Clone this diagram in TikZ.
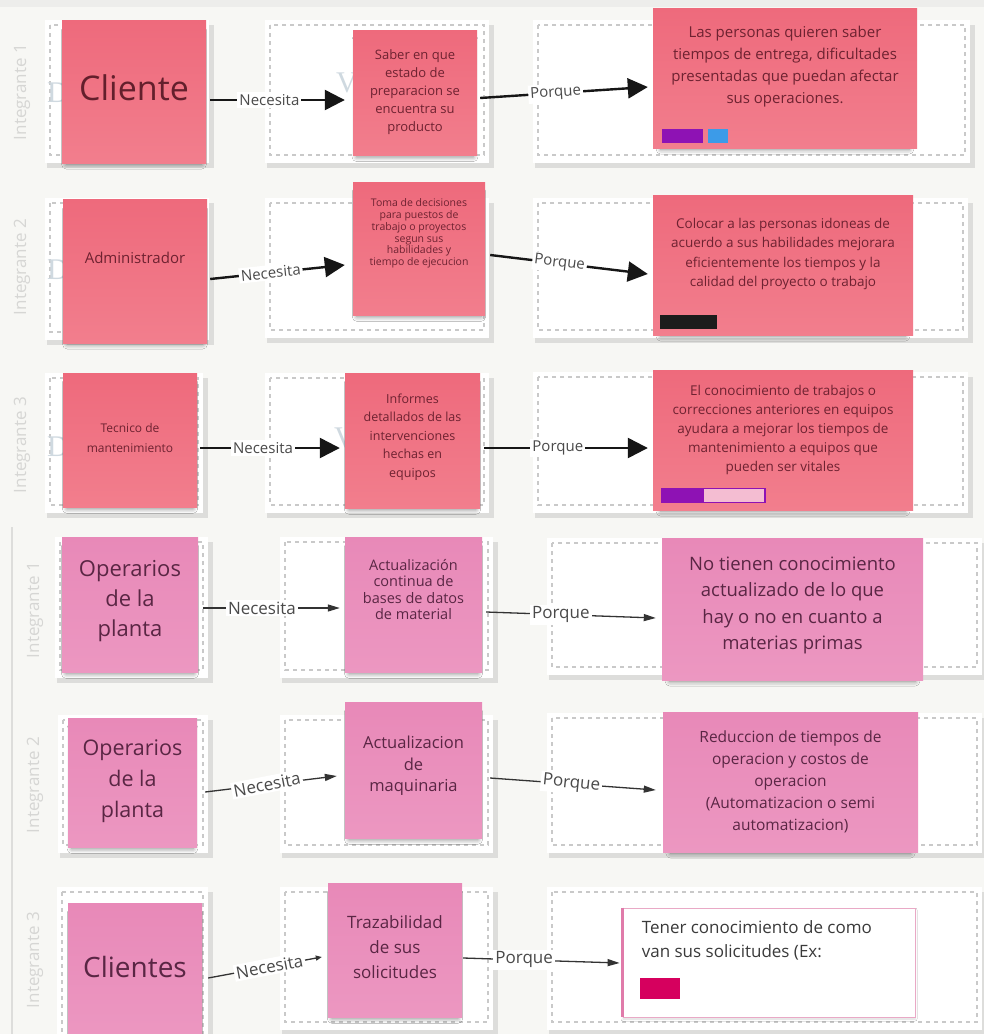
\documentclass[tikz,border=0pt]{standalone}
\usepackage{fontspec}
\setmainfont{Open Sans}
\newfontfamily\placeholderfont{Liberation Serif}
\usetikzlibrary{arrows.meta,calc,shadows.blur}

\definecolor{bg}{HTML}{F7F7F4}
\definecolor{topband}{HTML}{EDEDEB}
\definecolor{cellgray}{HTML}{DDDDDB}
\definecolor{dashgray}{HTML}{C9C9C9}
\definecolor{redtop}{HTML}{EE6A7C}
\definecolor{redbot}{HTML}{F27E8D}
\definecolor{pinktop}{HTML}{E889B8}
\definecolor{pinkbot}{HTML}{EC97C1}
\definecolor{redink}{HTML}{6E2231}
\definecolor{pinkink}{HTML}{5A2644}
\definecolor{ink}{HTML}{161616}
\definecolor{inksoft}{HTML}{333333}
\definecolor{lblgray}{HTML}{4A4A4A}
\definecolor{intgray}{HTML}{D6D6D4}
\definecolor{faintblue}{HTML}{CFD9E0}
\definecolor{tagpurple}{HTML}{8E12B4}
\definecolor{tagblue}{HTML}{3C9BE8}
\definecolor{tagblack}{HTML}{1C1C1C}
\definecolor{tagpale}{HTML}{F4BDD2}
\definecolor{tagpink}{HTML}{D6005E}
\definecolor{cardline}{HTML}{E9A9C6}
\definecolor{cardbar}{HTML}{E07BAA}
\definecolor{cardink}{HTML}{3A3A3A}

\newcommand\fsz[2]{\fontsize{#1}{#2}\selectfont}

% one board cell: shaded card, white face and dashed inner frame
\newcommand\boardcell[4]{%
  \fill[cellgray] (#1-3,#2) rectangle (#3+10,#4+13);
  \fill[white] (#1-5,#2-5) rectangle (#3+5,#4+8);
  \draw[celldash] (#1,#2) rectangle (#3,#4);}

\begin{document}
\begin{tikzpicture}[x=1pt,y=-1pt,
  celldash/.style={draw=dashgray, line width=1.1pt, dash pattern=on 4pt off 4pt},
  stickyshadow/.style={blur shadow={shadow xshift=0pt, shadow yshift=-6pt,
      shadow blur radius=5pt, shadow opacity=50, shadow scale=0.94}},
  stickyR/.style={draw=none, top color=redtop, bottom color=redbot, stickyshadow, inner sep=0pt},
  stickyP/.style={draw=none, top color=pinktop, bottom color=pinkbot, stickyshadow, inner sep=0pt},
  txtR/.style={text=redink, align=center, inner sep=0pt},
  txtP/.style={text=pinkink, align=center, inner sep=0pt},
  lblA/.style={fill=white, text=lblgray, inner sep=2pt, font=\fsz{15}{18}},
  lblB/.style={fill=white, text=lblgray, inner sep=2pt, font=\fsz{17}{20}},
  bigconn/.style={draw=ink, line width=2.4pt, -{Triangle[length=20pt,width=20pt]}},
  smallconn/.style={draw=inksoft, line width=1.3pt, -{Triangle[length=12pt,width=7pt]}},
  tinyconn/.style={draw=inksoft, line width=1.3pt, -{Triangle[length=6pt,width=5pt]}},
  intlabel/.style={text=intgray, rotate=90, font=\fsz{17}{20}, inner sep=0pt},
  faint/.style={text=faintblue, font=\placeholderfont\fsz{30}{30}, anchor=west, inner sep=0pt},
  card/.style={draw=cardline, line width=0.8pt, fill=white, inner sep=0pt,
      blur shadow={shadow xshift=0pt, shadow yshift=-2pt, shadow blur radius=2pt, shadow opacity=15}}]

\useasboundingbox (0,0) rectangle (984,1034);
\clip (0,0) rectangle (984,1034);
\fill[bg] (0,0) rectangle (984,1034);
\fill[topband] (0,0) rectangle (984,7);
\draw[cellgray, line width=2pt] (12,527) -- (12,1034);

% ---------- cells ----------
\boardcell{50}{25}{204}{155}
\boardcell{270}{25}{484}{155}
\boardcell{538}{25}{965}{155}
\boardcell{50}{203}{204}{332}
\boardcell{270}{203}{484}{330}
\boardcell{538}{203}{963}{330}
\boardcell{50}{378}{198}{505}
\boardcell{270}{378}{484}{505}
\boardcell{538}{377}{963}{505}
\boardcell{60}{542}{203}{670}
\boardcell{285}{542}{488}{670}
\boardcell{552}{543}{977}{667}
\boardcell{63}{720}{203}{845}
\boardcell{285}{720}{488}{845}
\boardcell{552}{718}{977}{845}
\boardcell{62}{892}{203}{1045}
\boardcell{285}{892}{488}{1022}
\boardcell{552}{892}{977}{1022}

% placeholder letters left behind the notes
\node[faint] (ph1) at (47,93) {D};
\node[faint] (ph2) at (47,270) {D};
\node[faint] (ph3) at (47,447) {D};
\node[faint] (ph4) at (336,83) {V};
\node[faint] (ph5) at (334,438) {V};

% ---------- row 1 ----------
\node[stickyR, minimum width=144pt, minimum height=143pt] (r1a) at (134,91.5) {};
\node[txtR, font=\fsz{34}{40}, text=redink!90!black] (r1a-t) at ($(r1a.center)+(0,-3.5)$) {Cliente};
\node[stickyR, minimum width=124pt, minimum height=125pt] (r1b) at (415,92.5) {};
\node[txtR, font=\fsz{13}{18}] (r1b-t) at (r1b.center)
  {Saber en que\\estado de\\preparacion se\\encuentra su\\producto};
\node[stickyR, minimum width=264pt, minimum height=140pt] (r1c) at (785,78) {};
\node[txtR, font=\fsz{15}{22}] (r1c-t) at ($(r1c.center)+(0,-11)$)
  {Las personas quieren saber\\tiempos de entrega, dificultades\\presentadas que puedan afectar\\sus operaciones.};
\fill[tagpurple] (662,129) rectangle (703,143);
\fill[tagblue] (708,129) rectangle (728,143);

% ---------- row 2 ----------
\node[stickyR, minimum width=144pt, minimum height=144pt] (r2a) at (135,271) {};
\node[txtR, font=\fsz{15}{20}] (r2a-t) at ($(r2a.center)+(0,-13)$) {Administrador};
\node[stickyR, minimum width=132pt, minimum height=133pt] (r2b) at (419,248.5) {};
\node[txtR, font=\fsz{10.5}{11.7}] (r2b-t) at ($(r2b.center)+(0,-15)$)
  {Toma de decisiones\\para puestos de\\trabajo o proyectos\\segun sus\\habilidades y\\tiempo de ejecucion};
\node[stickyR, minimum width=260pt, minimum height=140pt] (r2c) at (783,265) {};
\node[txtR, font=\fsz{13.5}{19.5}] (r2c-t) at ($(r2c.center)+(0,-11)$)
  {Colocar a las personas idoneas de\\acuerdo a sus habilidades mejorara\\eficientemente los tiempos y la\\calidad del proyecto o trabajo};
\fill[tagblack] (660,315) rectangle (717,329);

% ---------- row 3 ----------
\node[stickyR, minimum width=134pt, minimum height=134pt] (r3a) at (130,440) {};
\node[txtR, font=\fsz{12}{20}] (r3a-t) at ($(r3a.center)+(0,-2)$) {Tecnico de\\mantenimiento};
\node[stickyR, minimum width=135pt, minimum height=135pt] (r3b) at (412.5,440.5) {};
\node[txtR, font=\fsz{12.5}{18.5}] (r3b-t) at ($(r3b.center)+(0,-3.5)$)
  {Informes\\detallados de las\\intervenciones\\hechas en\\equipos};
\node[stickyR, minimum width=260pt, minimum height=140pt] (r3c) at (783,440) {};
\node[txtR, font=\fsz{13.5}{19}] (r3c-t) at ($(r3c.center)+(0,-10)$)
  {El conocimiento de trabajos o\\correcciones anteriores en equipos\\ayudara a mejorar los tiempos de\\mantenimiento a equipos que\\pueden ser vitales};
\fill[tagpurple] (661,488) rectangle (703,503);
\filldraw[fill=tagpale, draw=tagpurple, line width=1.3pt] (703,488.6) rectangle (765,502.4);

% ---------- row 4 ----------
\node[stickyP, minimum width=136pt, minimum height=135pt] (r4a) at (130,604.5) {};
\node[txtP, font=\fsz{22}{30}] (r4a-t) at ($(r4a.center)+(0,-3.5)$) {Operarios\\de la\\planta};
\node[stickyP, minimum width=137pt, minimum height=135pt] (r4b) at (413.5,604.5) {};
\node[txtP, font=\fsz{14.5}{16.5}] (r4b-t) at ($(r4b.center)+(0,-15)$)
  {Actualización\\continua de\\bases de datos\\de material};
\node[stickyP, minimum width=261pt, minimum height=142pt] (r4c) at (792.5,609) {};
\node[txtP, font=\fsz{18.5}{26.5}] (r4c-t) at ($(r4c.center)+(0,-3.5)$)
  {No tienen conocimiento\\actualizado de lo que\\hay o no en cuanto a\\materias primas};

% ---------- row 5 ----------
\node[stickyP, minimum width=129pt, minimum height=129pt] (r5a) at (132.5,782.5) {};
\node[txtP, font=\fsz{21.5}{31}] (r5a-t) at ($(r5a.center)+(0,-1.5)$) {Operarios\\de la\\planta};
\node[stickyP, minimum width=137pt, minimum height=136pt] (r5b) at (413.5,770) {};
\node[txtP, font=\fsz{16.5}{21.5}] (r5b-t) at ($(r5b.center)+(0,-4)$) {Actualizacion\\de\\maquinaria};
\node[stickyP, minimum width=255pt, minimum height=140pt] (r5c) at (790.5,782) {};
\node[txtP, font=\fsz{15.5}{22}] (r5c-t) at (r5c.center)
  {Reduccion de tiempos de\\operacion y costos de\\operacion\\(Automatizacion o semi\\automatizacion)};

% ---------- row 6 ----------
\node[stickyP, minimum width=134pt, minimum height=134pt] (r6a) at (135,970) {};
\node[txtP, font=\fsz{28}{32}] (r6a-t) at ($(r6a.center)+(0,-3)$) {Clientes};
\node[stickyP, minimum width=134pt, minimum height=134pt] (r6b) at (395,950) {};
\node[txtP, font=\fsz{17}{25}] (r6b-t) at ($(r6b.center)+(0,-3)$) {Trazabilidad\\de sus\\solicitudes};
\node[card, minimum width=292pt, minimum height=109pt] (r6c) at (769,962.5) {};
\draw[cardbar, line width=3pt] (r6c.north west) -- (r6c.south west);
\node[text=cardink, align=left, inner sep=0pt, font=\fsz{17}{24}, anchor=west] (r6c-t)
  at ($(r6c.west)+(19,-22.5)$) {Tener conocimiento de como\\van sus solicitudes (Ex:};
\fill[tagpink] (640,978) rectangle (680,999);

% ---------- connectors ----------
\draw[bigconn] ($(r1a.east)+(4,8.5)$) -- node[lblA, pos=0.44] (n1) {Necesita} ($(r1b.west)+(-8,7.5)$);
\draw[bigconn] ($(r1b.east)+(3,5.5)$) -- node[lblA, pos=0.45, sloped] (p1) {Porque} ($(r1c.west)+(-5,9)$);
\draw[bigconn] ($(r2a.east)+(3,8)$) -- node[lblA, pos=0.45, sloped] (n2) {Necesita} ($(r2b.west)+(-8,16.5)$);
\draw[bigconn] ($(r2b.east)+(5,6.5)$) -- node[lblA, pos=0.44, sloped] (p2) {Porque} ($(r2c.west)+(-5,9)$);
\draw[bigconn] ($(r3a.east)+(3,8)$) -- node[lblA, pos=0.45] (n3) {Necesita} ($(r3b.west)+(-5,7.5)$);
\draw[bigconn] ($(r3b.east)+(4,7.5)$) -- node[lblA, pos=0.45] (p3) {Porque} ($(r3c.west)+(-5,8)$);
\draw[smallconn] ($(r4a.east)+(5,3.5)$) -- node[lblB, pos=0.43] (n4) {Necesita} ($(r4b.west)+(-5,3.5)$);
\draw[smallconn] ($(r4b.east)+(4,7.5)$) -- node[lblB, pos=0.44] (p4) {Porque} ($(r4c.west)+(-6,9)$);
\draw[smallconn] ($(r5a.east)+(8,9.5)$) -- node[lblB, pos=0.47, rotate=11] (n5) {Necesita} ($(r5b.west)+(-8,6)$);
\draw[smallconn] ($(r5b.east)+(8,8)$) -- node[lblB, pos=0.49, rotate=-6] (p5) {Porque} ($(r5c.west)+(-7,8)$);
\draw[tinyconn] ($(r6a.east)+(6,8)$) -- node[lblB, pos=0.54, rotate=11] (n6) {Necesita} ($(r6b.west)+(-6,7)$);
\draw[smallconn] ($(r6b.east)+(1,8)$) -- node[lblB, pos=0.39] (p6) {Porque} ($(r6c.west)+(-3,0.5)$);

% ---------- side labels ----------
\node[intlabel] (il1) at (22,92) {Integrante 1};
\node[intlabel] (il2) at (22,267) {Integrante 2};
\node[intlabel] (il3) at (22,445) {Integrante 3};
\node[intlabel] (il4) at (35,610) {Integrante 1};
\node[intlabel] (il5) at (35,785) {Integrante 2};
\node[intlabel] (il6) at (35,960) {Integrante 3};

\end{tikzpicture}
\end{document}
